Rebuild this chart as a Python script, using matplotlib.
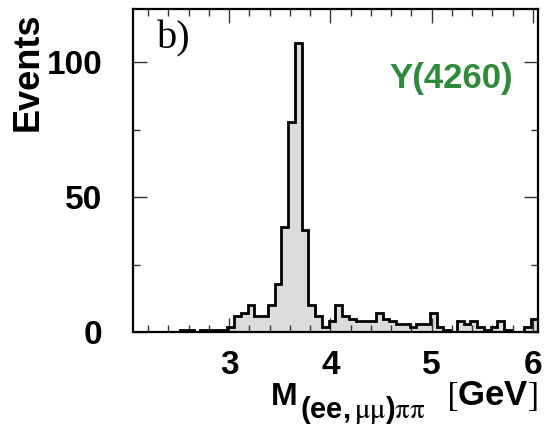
import numpy as np
import matplotlib.pyplot as plt
from matplotlib.ticker import MultipleLocator

plt.rcParams["font.family"] = ["Liberation Sans", "DejaVu Sans"]
plt.rcParams["mathtext.fontset"] = "custom"
plt.rcParams["mathtext.rm"] = "STIXGeneral"
plt.rcParams["mathtext.bf"] = "Liberation Sans:bold"
plt.rcParams["mathtext.it"] = "STIXGeneral:italic"

# histogram of M((ee,mumu)pipi), 60 bins from 2.05 to 6.05 GeV
x_lo, x_hi, n_bins = 2.05, 6.05, 60
counts = [0, 0, 0, 0, 0, 0, 0, 1, 1, 0,
          1, 1, 1, 1, 2, 6, 7, 10, 6, 6,
          10, 18, 39, 78, 107, 38, 10, 6, 2, 4,
          10, 6, 5, 4, 4, 4, 7, 5, 4, 3,
          3, 2, 3, 3, 7, 2, 1, 0, 4, 3,
          4, 2, 1, 2, 4, 1, 0, 0, 2, 5]
x_ticks = [3, 4, 5, 6]
y_ticks = [0, 50, 100]

edges = np.linspace(x_lo, x_hi, n_bins + 1)

fig = plt.figure(figsize=(5.45, 4.26), dpi=100)
ax = fig.add_axes([0.244, 0.22, 0.743, 0.758])

ax.stairs(counts, edges, fill=True, color="#dcdcdc", zorder=1)
ax.stairs(counts, edges, color="black", linewidth=2.0, zorder=2)

ax.set_xlim(x_lo, x_hi)
ax.set_ylim(0, 119.5)
ax.set_xticks(x_ticks)
ax.set_yticks(y_ticks)
ax.xaxis.set_minor_locator(MultipleLocator(0.2))
ax.yaxis.set_minor_locator(MultipleLocator(25))

ax.tick_params(which="both", direction="in", top=True, right=True,
               width=1.0, color="#333333")
ax.tick_params(which="major", length=10)
ax.tick_params(which="minor", length=5)
ax.tick_params(axis="x", which="major", pad=13, labelsize=24)
ax.tick_params(axis="y", which="major", pad=22, labelsize=24)
for lab in ax.get_xticklabels() + ax.get_yticklabels():
    lab.set_fontweight("bold")

for sp in ax.spines.values():
    sp.set_linewidth(1.6)

ax.text(0.06, 0.88, "b)", transform=ax.transAxes, fontsize=29,
        family="Liberation Serif", va="baseline")
ax.text(0.938, 0.756, "Y(4260)", transform=ax.transAxes, fontsize=25,
        fontweight="bold", color="#2f8a3b", ha="right", va="baseline")

fig.text(0.052, 0.97, "Events", rotation=90, fontsize=26,
         fontweight="bold", ha="center", va="top")

# x label built from pieces: M, a large subscript, and [GeV]
fig.text(271 / 545, 1 - 405 / 426, "M", fontsize=23, fontweight="bold",
         ha="left", va="baseline")
fig.text(300 / 545, 1 - 418 / 426,
         r"$\mathbf{(ee,}\mathrm{\mu\mu}\mathbf{)}\mathrm{\pi\pi}$",
         fontsize=21, ha="left", va="baseline")
fig.text(538 / 545, 1 - 405 / 426,
         r"$\mathrm{[}\mathbf{GeV}\mathrm{]}$",
         fontsize=25, ha="right", va="baseline")

fig.savefig("out.png", dpi=100)
